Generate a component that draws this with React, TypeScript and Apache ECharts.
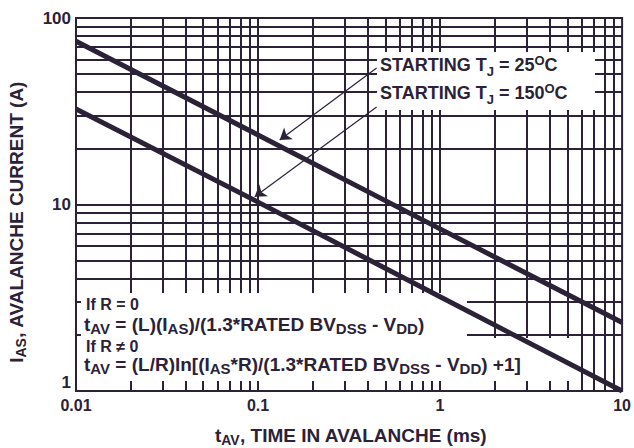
import React, { useEffect, useRef } from "react";
import * as echarts from "echarts";

// ---- data ----
const xTickValues = [0.01, 0.1, 1, 10];
const xTickLabels = ["0.01", "0.1", "1", "10"];
const yTickValues = [1, 10, 100];
const yTickLabels = ["1", "10", "100"];

const timeInAvalancheMs = [0.01, 0.1, 1, 10];
const current25C = [75, 23.6, 7.4, 2.33];
const current150C = [32.5, 10.3, 3.2, 1.0];

const xGridValues = [
  0.02, 0.03, 0.04, 0.05, 0.06, 0.07, 0.08, 0.09, 0.1,
  0.2, 0.3, 0.4, 0.5, 0.6, 0.7, 0.8, 0.9, 1,
  2, 3, 4, 5, 6, 7, 8, 9,
];
const yGridValues = [2, 3, 4, 5, 6, 7, 8, 9, 10, 20, 30, 40, 50, 60, 70, 80, 90];

const arrow25Start = [0.448, 54.0];
const arrow25End = [0.1315, 22.2];
const arrow150Start = [0.448, 33.3];
const arrow150End = [0.0959, 11.0];

const label25 = "{m|STARTING T}{s|J}{m| = 25}{p|O}{m|C}";
const label150 = "{m|STARTING T}{s|J}{m| = 150}{p|O}{m|C}";
const formulaLines = [
  "{m|If R = 0}",
  "{m|t}{s|AV}{m| = (L)(I}{s|AS}{m|)/(1.3*RATED BV}{s|DSS}{m| - V}{s|DD}{m|)}",
  "{m|If R ≠ 0}",
  "{m|t}{s|AV}{m| = (L/R)ln[(I}{s|AS}{m|*R)/(1.3*RATED BV}{s|DSS}{m| - V}{s|DD}{m|) +1]}",
];
const xTitle = "{m|t}{s|AV}{m|, TIME IN AVALANCHE (ms)}";
const yTitle = "{m|I}{s|AS}{m|, AVALANCHE CURRENT (A)}";

const INK = "#2b2238";
const FONT = "'Liberation Sans', Arial, Helvetica, sans-serif";

function tickLabel(values: number[], labels: string[]) {
  return (v: number) => {
    const i = values.findIndex((t) => Math.abs(Math.log10(t) - Math.log10(v)) < 1e-6);
    return i >= 0 ? labels[i] : "";
  };
}

function richSet(main: number, small: number, subPad: number, supPad: number) {
  return {
    m: { fontSize: main, fontWeight: "bold", fontFamily: FONT, fill: INK, verticalAlign: "middle" },
    s: { fontSize: small, fontWeight: "bold", fontFamily: FONT, fill: INK, verticalAlign: "middle", padding: [subPad, 0, 0, 0] },
    p: { fontSize: small, fontWeight: "bold", fontFamily: FONT, fill: INK, verticalAlign: "middle", padding: [0, 0, supPad, 0] },
  };
}

function textEl(text: string, x: number, y: number, rich: any, extra: any = {}) {
  return {
    type: "text",
    x,
    y,
    z: 7,
    silent: true,
    ...extra,
    style: {
      text,
      rich,
      align: extra.align || "left",
      verticalAlign: "middle",
      fill: INK,
    },
  };
}

export default function App() {
  const ref = useRef<HTMLDivElement>(null);

  useEffect(() => {
    if (!ref.current) return;
    const chart = echarts.init(ref.current, null, { renderer: "svg" });

    const annRich = richSet(18, 13, 12, 9);
    const ifRich = richSet(16, 13, 8, 6);
    const formRich = richSet(19, 15, 9, 6);
    const titleRich = richSet(19, 14, 10, 8);

    const option: any = {
      animation: false,
      grid: {
        left: 76,
        right: 11,
        top: 18,
        bottom: 57,
        show: true,
        borderColor: INK,
        borderWidth: 2,
        backgroundColor: "transparent",
      },
      xAxis: {
        type: "log",
        logBase: 10,
        min: 0.01,
        max: 10,
        axisLine: { show: false },
        axisTick: { show: false },
        splitLine: { show: false },
        axisLabel: {
          margin: 6,
          color: INK,
          fontSize: 16,
          fontWeight: "bold",
          fontFamily: FONT,
          formatter: tickLabel(xTickValues, xTickLabels),
        },
      },
      yAxis: {
        type: "log",
        logBase: 10,
        min: 1,
        max: 100,
        axisLine: { show: false },
        axisTick: { show: false },
        splitLine: { show: false },
        axisLabel: {
          margin: 5,
          color: INK,
          fontSize: 17,
          fontWeight: "bold",
          fontFamily: FONT,
          verticalAlignMinLabel: "bottom",
          formatter: tickLabel(yTickValues, yTickLabels),
        },
      },
      series: [
        {
          type: "line",
          name: "grid",
          data: [],
          silent: true,
          z: 1,
          markLine: {
            z: 1,
            silent: true,
            animation: false,
            symbol: ["none", "none"],
            label: { show: false },
            emphasis: { disabled: true },
            lineStyle: { color: INK, width: 2, type: "solid" },
            data: [
              ...xGridValues.map((v) => ({ xAxis: v })),
              ...yGridValues.map((v) => ({ yAxis: v })),
            ],
          },
        },
        {
          type: "line",
          name: "Starting TJ = 25°C",
          z: 5,
          symbol: "none",
          silent: true,
          lineStyle: { color: INK, width: 5 },
          data: timeInAvalancheMs.map((t, i) => [t, current25C[i]]),
        },
        {
          type: "line",
          name: "Starting TJ = 150°C",
          z: 5,
          symbol: "none",
          silent: true,
          lineStyle: { color: INK, width: 5 },
          data: timeInAvalancheMs.map((t, i) => [t, current150C[i]]),
        },
        {
          type: "line",
          name: "arrows",
          data: [],
          silent: true,
          markLine: {
            z: 6,
            silent: true,
            animation: false,
            symbol: ["none", "arrow"],
            symbolSize: 11,
            label: { show: false },
            emphasis: { disabled: true },
            itemStyle: { color: INK },
            lineStyle: { color: INK, width: 1.2, type: "solid" },
            data: [
              [{ coord: arrow25Start }, { coord: arrow25End }],
              [{ coord: arrow150Start }, { coord: arrow150End }],
            ],
          },
        },
      ],
      graphic: [
        { type: "rect", z: 3, silent: true, shape: { x: 377, y: 52, width: 218, height: 58 }, style: { fill: "#ffffff" } },
        { type: "rect", z: 3, silent: true, shape: { x: 81, y: 293, width: 386, height: 45 }, style: { fill: "#ffffff" } },
        { type: "rect", z: 3, silent: true, shape: { x: 81, y: 338, width: 492, height: 43 }, style: { fill: "#ffffff" } },
        textEl(label25, 380, 65, annRich),
        textEl(label150, 380, 93, annRich),
        textEl(formulaLines[0], 86, 304, ifRich),
        textEl(formulaLines[1], 84, 324, formRich),
        textEl(formulaLines[2], 86, 346, ifRich),
        textEl(formulaLines[3], 84, 364, formRich),
        textEl(xTitle, 351, 435, titleRich, { align: "center" }),
        textEl(yTitle, 16, 222, titleRich, { align: "center", rotation: Math.PI / 2 }),
      ],
    };

    chart.setOption(option);
    return () => chart.dispose();
  }, []);

  return (
    <div
      ref={ref}
      style={{ position: "fixed", left: 0, top: 0, width: 634, height: 448, background: "#ffffff" }}
    />
  );
}
